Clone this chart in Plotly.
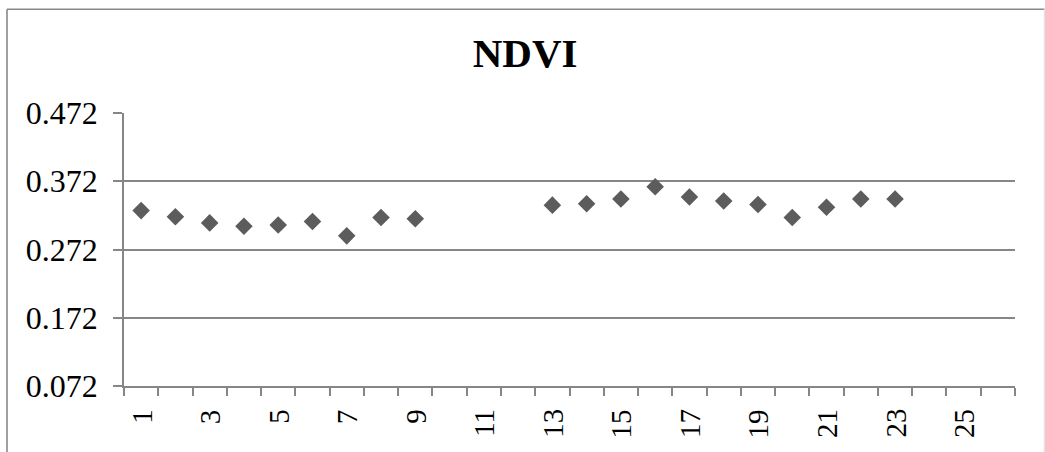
import plotly.graph_objects as go

# Observation index (1..26) and NDVI values; None marks missing observations
days = list(range(1, 27))
ndvi = [0.329, 0.320, 0.311, 0.306, 0.308, 0.313, 0.292, 0.319, 0.317,
        None, None, None,
        0.337, 0.339, 0.346, 0.364, 0.349, 0.343, 0.338, 0.319, 0.334,
        0.346, 0.346,
        None, None, None]

y_ticks = [0.072, 0.172, 0.272, 0.372, 0.472]
y_tick_text = ["0.072", "0.172", "0.272", "0.372", "0.472"]
x_ticks = list(range(1, 27, 2))
x_tick_text = [str(v) for v in x_ticks]

W, H = 1045, 452
ML, MR, MT, MB = 124, 30, 113, 66
pw = W - ML - MR
ph = H - MT - MB

grid = "#868686"
font_family = "Liberation Serif, Times New Roman, serif"

fig = go.Figure(
    go.Scatter(
        x=days, y=ndvi, mode="markers",
        marker=dict(symbol="diamond", size=13.5, color="#5c5c5c",
                    line=dict(width=0)),
        showlegend=False,
    )
)

fig.update_layout(
    width=W, height=H,
    margin=dict(l=ML, r=MR, t=MT, b=MB, pad=0, autoexpand=False),
    paper_bgcolor="white", plot_bgcolor="white",
    font=dict(family=font_family, color="black"),
    title=dict(text="<b>NDVI</b>", x=0.5025, xref="container", xanchor="center",
               y=1 - 53 / H, yref="container", yanchor="middle",
               font=dict(family=font_family, size=41, color="black")),
)

# Category axis: tick marks sit on category boundaries, labels on odd days
fig.update_xaxes(
    range=[0.5, 26.5], tickvals=x_ticks, showticklabels=False,
    ticks="", automargin=False,
    minor=dict(tick0=0.5, dtick=1, ticks="outside", ticklen=8,
               tickcolor=grid, tickwidth=1.5, showgrid=False),
    showline=True, linecolor=grid, linewidth=1.6,
    showgrid=False, zeroline=False,
)

# Rotated day labels, top-aligned just under the tick marks
for v, t in zip(x_ticks, x_tick_text):
    fig.add_annotation(
        x=v, xref="x", y=0, yref="paper", yshift=-21,
        text=t, textangle=-90, showarrow=False,
        xanchor="center", yanchor="top",
        font=dict(family=font_family, size=29, color="black"),
    )

fig.update_yaxes(
    range=[0.072, 0.472], tickvals=y_ticks, ticktext=y_tick_text,
    tickfont=dict(size=32),
    ticks="outside", ticklen=9, tickcolor=grid, tickwidth=1.5,
    ticklabelstandoff=9, automargin=False,
    showline=True, linecolor=grid, linewidth=1.6,
    showgrid=True, gridcolor=grid, gridwidth=1.6,
    zeroline=False,
)


def px_to_paper_x(px):
    return (px - ML) / pw


def px_to_paper_y(py):
    return (H - MB - py) / ph


# Outer chart frame: top and left edges in grey, faint right edge
frame = [
    ((7, 9.3), (1044.5, 9.3), "#888888"),
    ((7, 9.3), (7, 470), "#888888"),
    ((1044.5, 9.3), (1044.5, 470), "#e4e4e4"),
]
for (x0, y0), (x1, y1), col in frame:
    fig.add_shape(
        type="line", xref="paper", yref="paper",
        x0=px_to_paper_x(x0), y0=px_to_paper_y(y0),
        x1=px_to_paper_x(x1), y1=px_to_paper_y(y1),
        line=dict(color=col, width=1.6), layer="below",
    )

fig.write_html("out.html")
